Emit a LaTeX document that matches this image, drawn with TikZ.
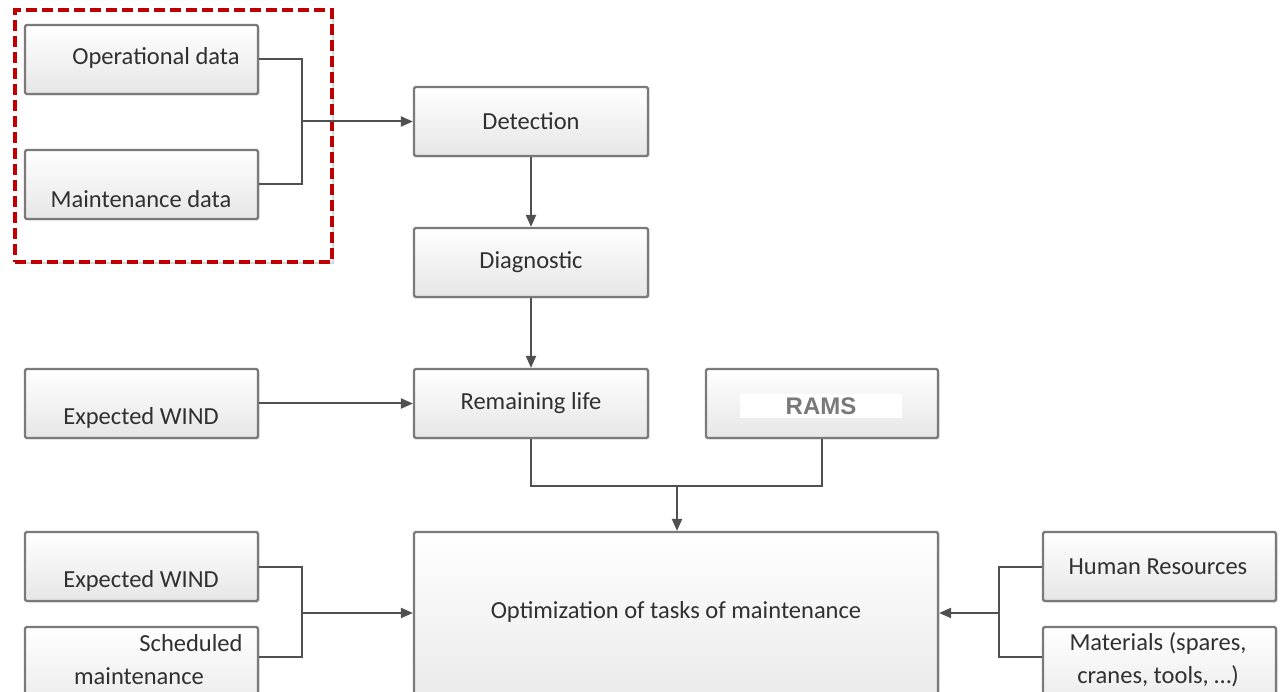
\documentclass[tikz,border=0pt]{standalone}
\usepackage{fontspec}
\setmainfont{Carlito}
\newfontfamily\ramsfont{Liberation Sans}
\usetikzlibrary{arrows.meta,calc,shadows}
\definecolor{boxline}{HTML}{7A7A7A}
\definecolor{boxbottom}{HTML}{E6E6E6}
\definecolor{txt}{HTML}{303030}
\definecolor{wire}{HTML}{505050}
\definecolor{grpred}{HTML}{C00000}
\tikzset{
  box/.style={draw=boxline, line width=2.2pt, rounded corners=1.5pt,
    top color=white, bottom color=boxbottom,
    minimum width=233pt, minimum height=69pt, inner sep=0pt,
    drop shadow={opacity=0.25, shadow xshift=1.5pt, shadow yshift=-1.5pt}},
  lbl/.style={font=\fontsize{24.5}{33}\selectfont, text=txt, inner sep=0pt, align=center},
  wireline/.style={draw=wire, line width=2pt},
  arr/.style={wireline, -{Triangle[length=12pt,width=10pt]}},
  group/.style={draw=grpred, fill=white, line width=3.5pt, dash pattern=on 11pt off 5pt,
    minimum width=317pt, minimum height=252pt, inner sep=0pt,
    drop shadow={opacity=0.3, shadow xshift=2pt, shadow yshift=-2pt}}
}
\begin{document}
\begin{tikzpicture}[x=1pt, y=-1pt]
\clip (0,0) rectangle (1283,692);
\fill[white] (0,0) rectangle (1283,692);

% input data group
\node[group] (grp) at (173.5,136) {};
\node[box] (op) at (141.5,59.5) {};
\node[box] (md) at (141.5,184.5) {};
\node[lbl] (opT) at (156,58) {Operational data};
\node[lbl] (mdT) at (141,199) {Maintenance data};

% main chain
\node[box, minimum width=234pt] (det) at (531,121.5) {};
\node[lbl] (detT) at (531,121.5) {Detection};
\node[box, minimum width=234pt] (diag) at (531,262.5) {};
\node[lbl] (diagT) at (531,262.5) {Diagnostic};
\node[box, minimum width=234pt] (rl) at (531,403.5) {};
\node[lbl] (rlT) at (531,403.5) {Remaining life};

\node[box] (ew1) at (141.5,403.5) {};
\node[lbl] (ew1T) at (141,418) {Expected WIND};

\node[box, minimum width=232pt] (rams) at (822,403.5) {};
\node[fill=white, minimum width=162pt, minimum height=24pt, inner sep=0pt,
      text=gray!95!black, font=\ramsfont\bfseries\fontsize{24}{28}\selectfont] (ramsT) at (821,406) {RAMS};

% optimisation stage
\node[box, minimum width=524pt, minimum height=200pt] (opt) at (676,632) {};
\node[lbl] (optT) at (676,612) {Optimization of tasks of maintenance};

\node[box] (ew2) at (141.5,566.5) {};
\node[lbl] (ew2T) at (141,581) {Expected WIND};
\node[box, minimum height=100pt] (sm) at (141.5,677) {};
\node[lbl] (smT1) at (191,643) {Scheduled};
\node[lbl] (smT2) at (139,676) {maintenance};

\node[box] (hr) at (1159.5,566.5) {};
\node[lbl] (hrT) at (1158,566.5) {Human Resources};
\node[box, minimum height=100pt] (mat) at (1159.5,677) {};
\node[lbl] (matT) at (1158,659.5) {Materials (spares,\\cranes, tools, …)};

% junction points
\coordinate (j1) at (302,121.5);
\coordinate (j2) at (677,486);
\coordinate (j3) at (302,613);
\coordinate (j4) at (999,613);
\coordinate (smE) at ($(sm.north east)+(0,31)$);
\coordinate (matW) at ($(mat.north west)+(0,31)$);

% connectors
\draw[wireline] (op.east) -| (j1) |- (md.east);
\draw[arr] (j1) -- (det.west);
\draw[arr] (det.south) -- (diag.north);
\draw[arr] (diag.south) -- (rl.north);
\draw[arr] (ew1.east) -- (rl.west);
\draw[wireline] (rl.south) |- (j2) -| (rams.south);
\draw[arr] (j2) -- (j2 |- opt.north);
\draw[wireline] (ew2.east) -| (j3) |- (smE);
\draw[arr] (j3) -- (j3 -| opt.west);
\draw[wireline] (hr.west) -| (j4) |- (matW);
\draw[arr] (j4) -- (j4 -| opt.east);
\end{tikzpicture}
\end{document}
